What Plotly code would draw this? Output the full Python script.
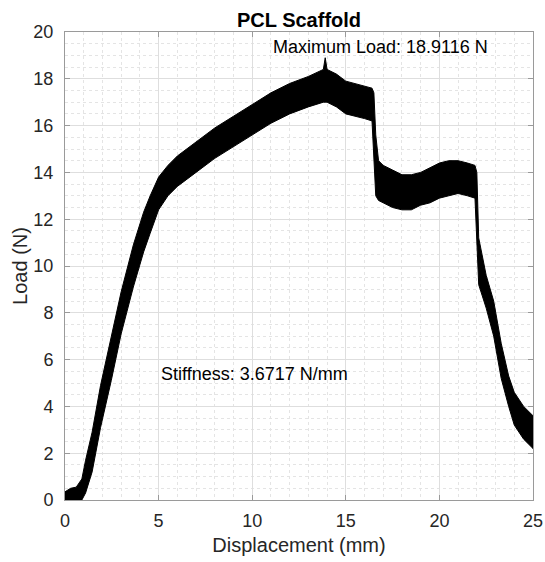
import plotly.graph_objects as go

# Displacement (mm) sample positions with the lower / upper edges of the noisy load band (N)
displacement = [0.0, 0.3, 0.6, 0.9, 1.1, 1.45, 1.9, 2.47, 3.0, 3.65, 4.2, 4.55, 5.0, 5.5, 6.0, 7.0,
                8.0, 9.0, 10.0, 11.0, 12.0, 13.0, 13.8, 13.9, 14.0, 14.5, 15.0, 15.5, 16.0,
                16.4, 16.5, 16.6, 16.75, 17.0, 17.5, 18.0, 18.5, 19.0, 19.5, 20.0, 20.5,
                21.0, 21.5, 21.9, 22.0, 22.1, 22.5, 22.9, 23.3, 23.7, 24.0, 24.5, 25.0]
load_low = [0.0, 0.0, 0.0, 0.0, 0.3, 1.2, 3.1, 5.1, 7.1, 9.1, 10.6, 11.4, 12.4, 13.0, 13.4, 14.0,
            14.6, 15.1, 15.6, 16.1, 16.5, 16.8, 17.0, 17.0, 17.0, 16.8, 16.5, 16.4, 16.3,
            16.2, 14.5, 13.0, 12.8, 12.7, 12.5, 12.4, 12.4, 12.6, 12.7, 12.9, 13.0,
            13.1, 13.0, 12.9, 10.8, 9.2, 8.2, 7.0, 5.2, 4.0, 3.2, 2.6, 2.2]
load_high = [0.35, 0.5, 0.55, 0.9, 1.7, 2.9, 4.9, 6.9, 8.9, 10.9, 12.3, 13.0, 13.8, 14.3, 14.7, 15.3,
             15.9, 16.4, 16.9, 17.4, 17.8, 18.1, 18.4, 18.9, 18.4, 18.2, 17.9, 17.8, 17.7,
             17.6, 17.4, 15.6, 14.5, 14.3, 14.1, 13.9, 13.9, 14.0, 14.2, 14.4, 14.5,
             14.5, 14.4, 14.3, 14.0, 11.2, 9.6, 8.5, 6.7, 5.3, 4.6, 4.0, 3.6]

x_ticks = [0, 5, 10, 15, 20, 25]
y_ticks = [0, 2, 4, 6, 8, 10, 12, 14, 16, 18, 20]

title_text = "PCL Scaffold"
max_text = "Maximum Load: 18.9116 N"
stiff_text = "Stiffness: 3.6717 N/mm"

FONT = "Liberation Sans, Arial, sans-serif"

fig = go.Figure()
fig.add_trace(go.Scatter(
    x=displacement + displacement[::-1],
    y=load_high + load_low[::-1],
    fill="toself",
    fillcolor="black",
    line=dict(color="black", width=1),
    mode="lines",
    hoverinfo="skip",
    showlegend=False,
))

axis_common = dict(
    showline=True, linecolor="#9a9a9a", linewidth=1, mirror="ticks",
    ticks="inside", ticklen=5, tickcolor="#9a9a9a",
    showgrid=True, gridcolor="#dedede", gridwidth=1,
    zeroline=False, automargin=False, ticklabeloverflow="allow",
    tickfont=dict(family=FONT, size=18, color="#262626"),
)

fig.update_xaxes(
    range=[0, 25], tickvals=x_ticks, ticktext=[str(v) for v in x_ticks],
    minor=dict(dtick=1, tick0=0, showgrid=True, gridcolor="#e4e4e4", griddash="dot", ticks=""),
    title=dict(text="Displacement (mm)", font=dict(family=FONT, size=20, color="#262626"), standoff=8),
    ticklabelstandoff=4,
    **axis_common,
)
fig.update_yaxes(
    range=[0, 20], tickvals=y_ticks, ticktext=[str(v) for v in y_ticks],
    minor=dict(dtick=0.5, tick0=0, showgrid=True, gridcolor="#e4e4e4", griddash="dot", ticks=""),
    title=dict(text="Load (N)", font=dict(family=FONT, size=20, color="#262626"), standoff=0),
    ticklabelstandoff=7,
    **axis_common,
)

fig.add_annotation(x=11, y=19.35, text=max_text, showarrow=False, xanchor="left", yanchor="middle",
                   font=dict(family=FONT, size=18, color="black"))
fig.add_annotation(x=5.0, y=5.4, text=stiff_text, showarrow=False, xanchor="left", yanchor="middle",
                   font=dict(family=FONT, size=18, color="black"))

fig.update_layout(
    width=545, height=562,
    margin=dict(l=65, r=12, t=32, b=62, autoexpand=False),
    paper_bgcolor="white", plot_bgcolor="white",
    hovermode=False,
    title=dict(text="<b>" + title_text + "</b>", x=0.5, xref="paper", xanchor="center",
               y=1, yref="paper", yanchor="bottom", pad=dict(b=5),
               font=dict(family=FONT, size=20, color="black")),
)

# remove the browser's default 8px page margin so the figure fills the window exactly
fig.write_html("out.html",
               config={"displayModeBar": False},
               post_script="document.body.style.margin='0';document.body.style.overflow='hidden';")
